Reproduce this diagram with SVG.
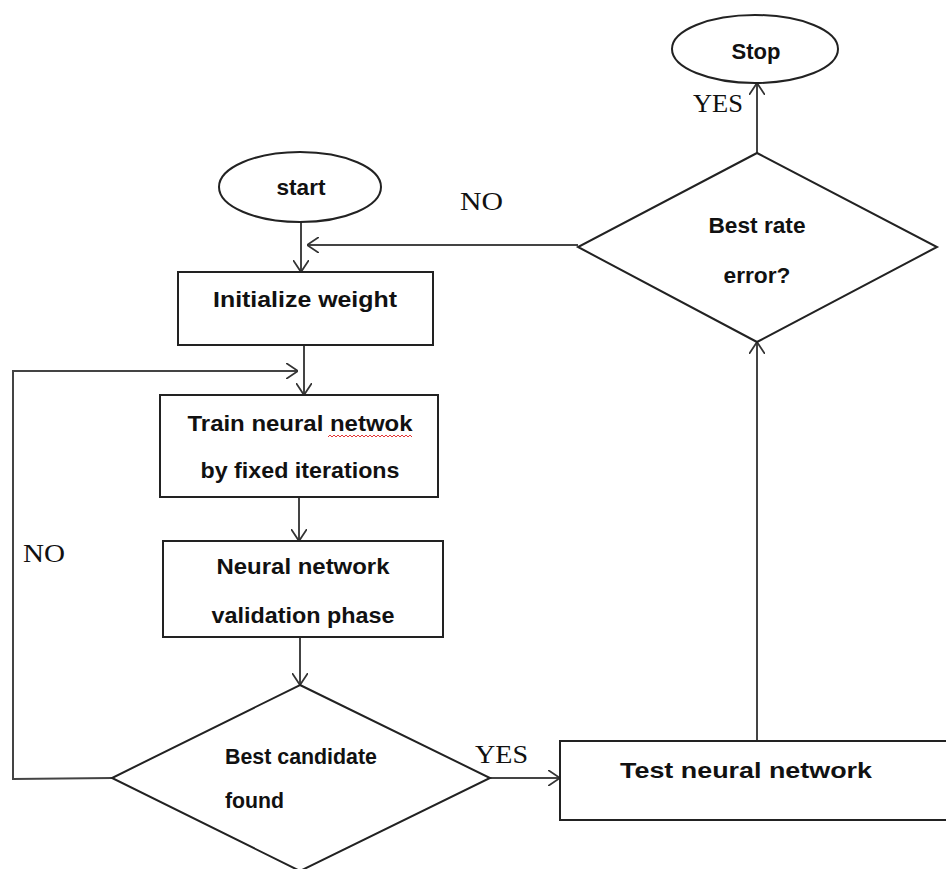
<svg xmlns="http://www.w3.org/2000/svg" width="946" height="869" viewBox="0 0 946 869">
<defs>
<marker id="arr" viewBox="0 0 12 16" refX="12" refY="8" markerWidth="12" markerHeight="16" markerUnits="userSpaceOnUse" orient="auto">
<path d="M0,0 L12,8 L0,16" fill="none" stroke="#333" stroke-width="1.8"/>
</marker>
</defs>
<style>
.shape{fill:#fff;stroke:#222;stroke-width:2}
.lbl{font-family:"Liberation Sans",Arial,sans-serif;font-weight:bold;font-size:22px;fill:#111}
.yn{font-family:"Liberation Serif","Times New Roman",serif;font-size:25px;fill:#111}
.conn{fill:none;stroke:#444;stroke-width:2}
</style>
<rect width="946" height="869" fill="#fff"/>
<g id="connectors">
<path class="conn" d="M301,222 L301,272" marker-end="url(#arr)"/>
<path class="conn" d="M578,245 L307,245" marker-end="url(#arr)"/>
<path class="conn" d="M304,345 L304,395" marker-end="url(#arr)"/>
<path class="conn" d="M112,778 L13,779 L13,371 L298,371" marker-end="url(#arr)"/>
<path class="conn" d="M299,497 L299,541" marker-end="url(#arr)"/>
<path class="conn" d="M300,637 L300,685" marker-end="url(#arr)"/>
<path class="conn" d="M490,778 L560,778" marker-end="url(#arr)"/>
<path class="conn" d="M757,741 L757,342" marker-end="url(#arr)"/>
<path class="conn" d="M757,153 L757,83" marker-end="url(#arr)"/>
<text class="yn" x="460" y="210" textLength="43" lengthAdjust="spacingAndGlyphs">NO</text>
<text class="yn" x="23" y="562" textLength="42" lengthAdjust="spacingAndGlyphs">NO</text>
<text class="yn" x="693" y="112" textLength="50" lengthAdjust="spacingAndGlyphs">YES</text>
<text class="yn" x="475" y="763" textLength="53" lengthAdjust="spacingAndGlyphs">YES</text>
</g>
<g id="stop">
<ellipse class="shape" cx="755" cy="49" rx="83" ry="34"/>
<text class="lbl" x="756" y="59" text-anchor="middle" textLength="49" lengthAdjust="spacingAndGlyphs">Stop</text>
</g>
<g id="start">
<ellipse class="shape" cx="300" cy="187" rx="81" ry="35"/>
<text class="lbl" x="301" y="195" text-anchor="middle" textLength="49" lengthAdjust="spacingAndGlyphs">start</text>
</g>
<g id="best-rate">
<polygon class="shape" points="757,153 937,247 757,342 578,247"/>
<text class="lbl" x="757" y="233" text-anchor="middle" textLength="97" lengthAdjust="spacingAndGlyphs">Best rate</text>
<text class="lbl" x="757" y="283" text-anchor="middle" textLength="67" lengthAdjust="spacingAndGlyphs">error?</text>
</g>
<g id="init">
<rect class="shape" x="178" y="272" width="255" height="73"/>
<text class="lbl" x="305" y="307" text-anchor="middle" textLength="184" lengthAdjust="spacingAndGlyphs">Initialize  weight</text>
</g>
<g id="train">
<rect class="shape" x="160" y="395" width="278" height="102"/>
<text class="lbl" x="300" y="431" text-anchor="middle" textLength="225" lengthAdjust="spacingAndGlyphs">Train neural netwok</text>
<path d="M328,437 l2,-2 l2,2 l2,-2 l2,2 l2,-2 l2,2 l2,-2 l2,2 l2,-2 l2,2 l2,-2 l2,2 l2,-2 l2,2 l2,-2 l2,2 l2,-2 l2,2 l2,-2 l2,2 l2,-2 l2,2 l2,-2 l2,2 l2,-2 l2,2 l2,-2 l2,2 l2,-2 l2,2 l2,-2 l2,2 l2,-2 l2,2 l2,-2 l2,2 l2,-2 l2,2 l2,-2 l2,2 l2,-2 l2,2" fill="none" stroke="#e02020" stroke-width="0.9"/>
<text class="lbl" x="300" y="478" text-anchor="middle" textLength="199" lengthAdjust="spacingAndGlyphs">by fixed iterations</text>
</g>
<g id="validation">
<rect class="shape" x="163" y="541" width="280" height="96"/>
<text class="lbl" x="303" y="574" text-anchor="middle" textLength="173" lengthAdjust="spacingAndGlyphs">Neural network</text>
<text class="lbl" x="303" y="623" text-anchor="middle" textLength="183" lengthAdjust="spacingAndGlyphs">validation phase</text>
</g>
<g id="best-candidate">
<polygon class="shape" points="300,685 490,778 300,871 112,778"/>
<text class="lbl" x="225" y="764" font-size="20" textLength="152" lengthAdjust="spacingAndGlyphs">Best  candidate</text>
<text class="lbl" x="225" y="808" font-size="20" textLength="59" lengthAdjust="spacingAndGlyphs">found</text>
</g>
<g id="test">
<rect class="shape" x="560" y="741" width="400" height="79"/>
<text class="lbl" x="746" y="778" text-anchor="middle" textLength="252" lengthAdjust="spacingAndGlyphs">Test neural network</text>
</g>
</svg>
